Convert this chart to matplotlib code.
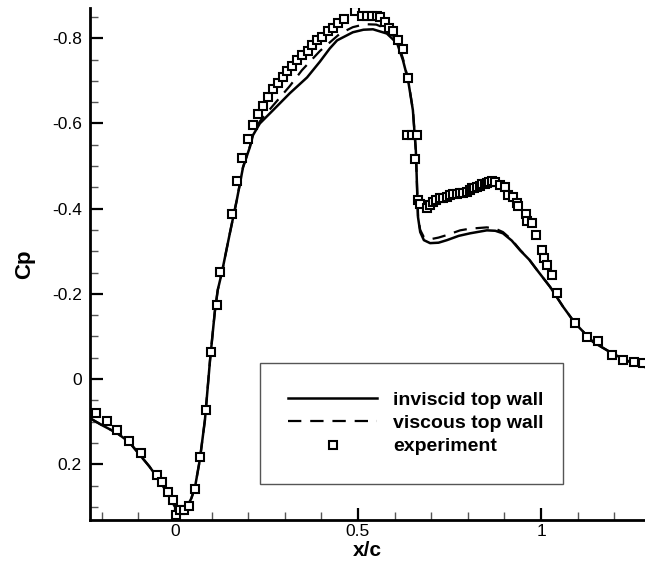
import numpy as np
import matplotlib
matplotlib.use("Agg")
import matplotlib.pyplot as plt
from matplotlib.ticker import MultipleLocator, FixedLocator

plt.rcParams.update({
    "font.family": ["Liberation Sans", "DejaVu Sans"],
    "font.size": 12.5,
})

# inviscid top wall (solid line)
x_inv = [-0.232, -0.200, -0.158, -0.125, -0.096, -0.070, -0.049, -0.030, -0.014,
         0.000, 0.010, 0.020, 0.033, 0.045, 0.055, 0.068, 0.082, 0.096, 0.109,
         0.117, 0.128, 0.150, 0.169, 0.186, 0.205, 0.213, 0.232, 0.268, 0.314,
         0.361, 0.396, 0.423, 0.443, 0.486, 0.515, 0.541, 0.579, 0.607, 0.623,
         0.637, 0.650, 0.658, 0.661, 0.664, 0.670, 0.680, 0.697, 0.720, 0.743,
         0.775, 0.806, 0.852, 0.875, 0.896, 0.920, 0.943, 0.968, 0.989, 1.025,
         1.060, 1.093, 1.142, 1.197, 1.243, 1.284]
cp_inv = [0.092, 0.108, 0.127, 0.148, 0.178, 0.205, 0.230, 0.255, 0.277,
          0.300, 0.318, 0.315, 0.300, 0.280, 0.253, 0.190, 0.096, -0.045, -0.158,
          -0.209, -0.249, -0.342, -0.420, -0.497, -0.545, -0.572, -0.600, -0.631, -0.671,
          -0.708, -0.745, -0.776, -0.795, -0.814, -0.820, -0.821, -0.811, -0.788, -0.748,
          -0.701, -0.631, -0.537, -0.460, -0.380, -0.345, -0.326, -0.319, -0.320, -0.326,
          -0.336, -0.342, -0.349, -0.348, -0.342, -0.325, -0.302, -0.280, -0.256, -0.216,
          -0.170, -0.131, -0.087, -0.059, -0.040, -0.028]

# viscous top wall (dashed line)
x_visc = [-0.232, -0.200, -0.158, -0.125, -0.096, -0.070, -0.049, -0.030, -0.014,
          0.000, 0.010, 0.020, 0.033, 0.045, 0.055, 0.068, 0.082, 0.096, 0.109,
          0.117, 0.128, 0.150, 0.169, 0.186, 0.205, 0.213, 0.232, 0.268, 0.314,
          0.347, 0.396, 0.451, 0.486, 0.519, 0.550, 0.579, 0.607, 0.623,
          0.637, 0.650, 0.658, 0.661, 0.664, 0.670, 0.680, 0.697, 0.720, 0.743,
          0.779, 0.806, 0.852, 0.875, 0.896, 0.920, 0.943, 0.968, 0.989, 1.025,
          1.060, 1.093, 1.142, 1.197, 1.243, 1.284]
cp_visc = [0.092, 0.108, 0.127, 0.148, 0.178, 0.205, 0.230, 0.255, 0.277,
           0.300, 0.318, 0.315, 0.300, 0.280, 0.253, 0.190, 0.096, -0.045, -0.158,
           -0.209, -0.249, -0.342, -0.420, -0.497, -0.547, -0.575, -0.605, -0.642, -0.688,
           -0.725, -0.770, -0.811, -0.826, -0.833, -0.832, -0.822, -0.795, -0.752,
           -0.703, -0.632, -0.537, -0.460, -0.380, -0.350, -0.333, -0.328, -0.332, -0.338,
           -0.349, -0.353, -0.356, -0.353, -0.345, -0.327, -0.303, -0.280, -0.256, -0.216,
           -0.170, -0.131, -0.087, -0.059, -0.040, -0.028]

# experiment
x_exp = [-0.216, -0.186, -0.158, -0.126, -0.093, -0.049, -0.035, -0.019, -0.005,
         0.003, 0.014, 0.025, 0.038, 0.055, 0.068, 0.084, 0.098, 0.115, 0.123,
         0.156, 0.169, 0.183, 0.199, 0.213, 0.227, 0.240, 0.254, 0.268, 0.281,
         0.295, 0.306, 0.320, 0.333, 0.347, 0.363, 0.374, 0.388, 0.402, 0.418,
         0.432, 0.445, 0.462, 0.492, 0.511, 0.525, 0.538, 0.552, 0.560, 0.574,
         0.585, 0.596, 0.609, 0.623, 0.637, 0.634, 0.648, 0.661, 0.656, 0.664,
         0.669, 0.689, 0.697, 0.705, 0.714, 0.724, 0.733, 0.743, 0.751, 0.760,
         0.770, 0.779, 0.788, 0.798, 0.805, 0.811, 0.818, 0.825, 0.832, 0.839,
         0.846, 0.852, 0.859, 0.866, 0.874, 0.888, 0.902, 0.910, 0.923, 0.934,
         0.937, 0.959, 0.962, 0.975, 0.986, 1.003, 1.008, 1.016, 1.030, 1.044,
         1.093, 1.126, 1.156, 1.194, 1.224, 1.254, 1.279]
cp_exp = [0.080, 0.098, 0.120, 0.145, 0.174, 0.225, 0.242, 0.265, 0.284,
          0.319, 0.307, 0.307, 0.298, 0.258, 0.183, 0.073, -0.063, -0.173, -0.251,
          -0.387, -0.464, -0.518, -0.563, -0.596, -0.621, -0.640, -0.661, -0.680, -0.694,
          -0.708, -0.722, -0.734, -0.748, -0.760, -0.771, -0.785, -0.795, -0.802, -0.816,
          -0.825, -0.835, -0.844, -0.863, -0.853, -0.853, -0.853, -0.853, -0.849, -0.839,
          -0.825, -0.816, -0.795, -0.774, -0.706, -0.572, -0.572, -0.572, -0.516, -0.420,
          -0.410, -0.401, -0.408, -0.415, -0.420, -0.424, -0.425, -0.427, -0.431, -0.434,
          -0.435, -0.436, -0.437, -0.438, -0.443, -0.448, -0.449, -0.450, -0.454, -0.457,
          -0.458, -0.460, -0.462, -0.464, -0.462, -0.455, -0.450, -0.431, -0.427, -0.413,
          -0.406, -0.387, -0.370, -0.366, -0.338, -0.302, -0.284, -0.267, -0.244, -0.202,
          -0.131, -0.098, -0.089, -0.056, -0.045, -0.040, -0.038]

fig = plt.figure(figsize=(6.45, 5.71), dpi=100)
ax = fig.add_axes([0.1395, 0.0893, 0.8605, 0.8967])

ax.plot(x_inv, cp_inv, '-', color='black', lw=1.8, label='inviscid top wall')
ax.plot(x_visc, cp_visc, '--', color='black', lw=1.6, dashes=(6, 4),
        label='viscous top wall')
ax.plot(x_exp, cp_exp, 's', ms=6.2, mfc='white', mec='black', mew=1.5,
        label='experiment')

ax.set_xlim(-0.232, 1.284)
ax.set_ylim(0.331, -0.871)

ax.xaxis.set_major_locator(FixedLocator([0, 0.5, 1]))
ax.xaxis.set_minor_locator(MultipleLocator(0.1))
ax.yaxis.set_major_locator(FixedLocator([-0.8, -0.6, -0.4, -0.2, 0, 0.2]))
ax.yaxis.set_minor_locator(MultipleLocator(0.05))
ax.set_xticklabels(['0', '0.5', '1'])
ax.set_yticklabels(['-0.8', '-0.6', '-0.4', '-0.2', '0', '0.2'])

ax.tick_params(which='major', direction='in', length=9, width=1.6, pad=3)
ax.tick_params(which='minor', direction='in', length=6, width=1.0, color='#555555')
ax.tick_params(axis='y', pad=6)
ax.spines['top'].set_visible(False)
ax.spines['right'].set_visible(False)
ax.spines['left'].set_linewidth(2.0)
ax.spines['bottom'].set_linewidth(2.0)

ax.set_xlabel('x/c', fontsize=15, fontweight='bold', labelpad=1)
ax.set_ylabel('Cp', fontsize=16, fontweight='bold', labelpad=12)

leg = ax.legend(loc='lower left', bbox_to_anchor=(0.306, 0.071, 0.546, 0.306),
                mode='expand', fancybox=False, framealpha=1, edgecolor='#555555',
                prop={'size': 14, 'weight': 'bold'}, handlelength=4.6,
                borderpad=1.45, labelspacing=0.3, handletextpad=0.8,
                borderaxespad=0)
leg.get_frame().set_linewidth(1.0)

fig.savefig('out.png', dpi=100)
